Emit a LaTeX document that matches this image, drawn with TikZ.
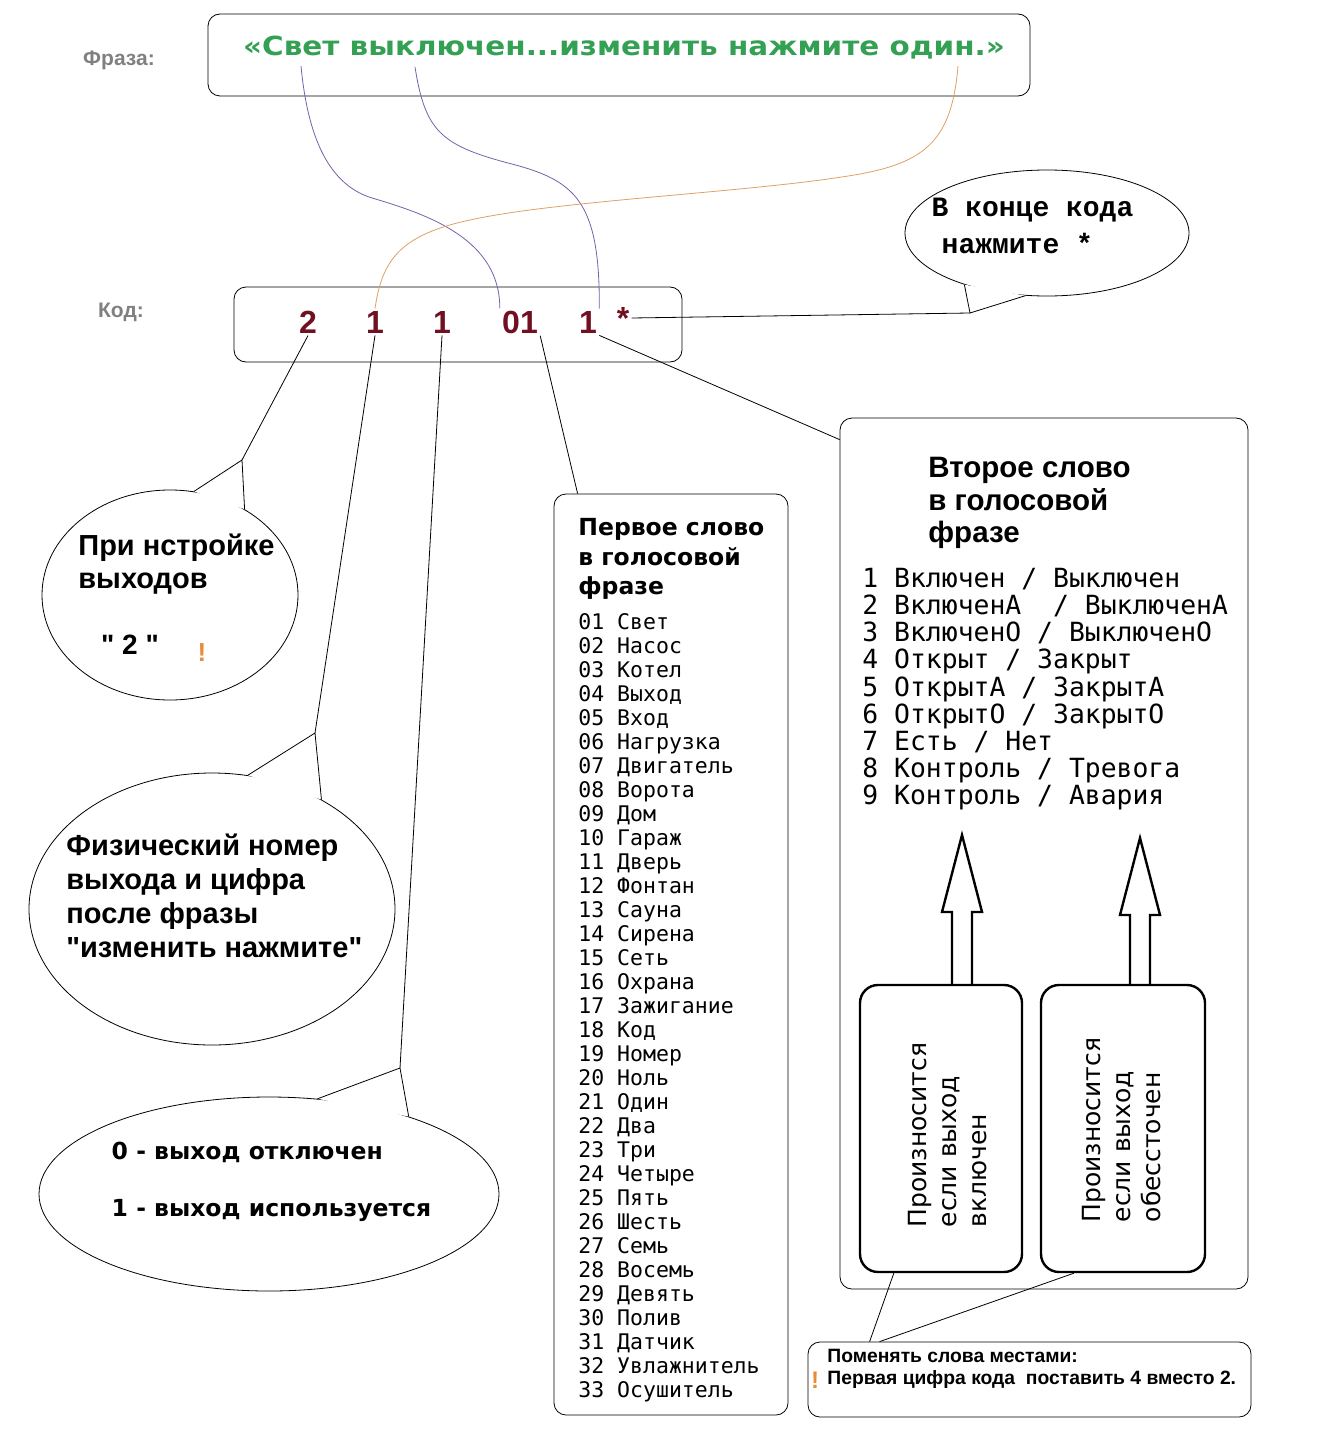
\documentclass[tikz,border=0pt]{standalone}
\usepackage{fontspec}
\setmainfont{Liberation Sans}
\newfontfamily\qfont{Liberation Sans}
\newfontfamily\listfont{DejaVu Sans Mono}
\newfontfamily\wideboldfont{DejaVu Sans}
\newfontfamily\phrasefont{DejaVu Sans}[FakeStretch=1.12]
\newfontfamily\typefont{Liberation Mono}
\usetikzlibrary{shapes.geometric}
\definecolor{PhraseGreen}{RGB}{52,160,84}
\definecolor{CodeRed}{RGB}{112,16,32}
\definecolor{LabelGray}{RGB}{128,128,128}
\definecolor{WirePurple}{RGB}{120,96,168}
\definecolor{WireOrange}{RGB}{222,160,100}
\definecolor{MarkOrange}{RGB}{232,140,60}

\begin{document}
\begin{tikzpicture}[x=1pt,y=-1pt,line width=0.8pt,
  frame/.style={draw,rounded corners=12pt,inner sep=0pt},
  bubble/.style={draw,ellipse,inner sep=0pt},
  digit/.style={font=\bfseries\fontsize{32}{32}\selectfont,text=CodeRed,inner sep=2pt},
  saybox/.style={draw,line width=2.4pt,rounded corners=18pt,minimum height=287pt},
  blockarr/.style={draw,line width=2.4pt,line join=miter},
  hint/.style={font=\bfseries\fontsize{21}{21}\selectfont,text=LabelGray}]
\useasboundingbox (0,0) rectangle (1320,1434);
% phrase and code
\node[frame,minimum width=822pt,minimum height=82pt] (phrasebox) at (619,55){};
\node[font=\phrasefont\bfseries\fontsize{26.3}{26.3}\selectfont,text=PhraseGreen] (phrase) at (624,48){«Свет выключен...изменить нажмите один.»};
\node[hint] (phraselbl) at (119,60){Фраза:};
\coordinate (wSvet) at (301,66);\coordinate (wVykl) at (415,67);\coordinate (wOdin) at (958,66);
\node[frame,minimum width=448pt,minimum height=75pt] (codebox) at (458,324.5){};
\node[hint] (codelbl) at (121,312){Код:};
\node[digit] (d2) at (308,322){2};
\node[digit] (d1a) at (375,322){1};
\node[digit] (d1b) at (442,322){1};
\node[digit] (d01) at (520,322){01};
\node[digit] (d1c) at (588,322){1};
\node[digit] (dstar) at (623,318){*};
% phrase words to code digits
\draw[WirePurple] (wSvet) .. controls (308,140) and (330,185) .. (372,198) .. controls (430,215) and (500,240) .. (d01.north west);
\draw[WirePurple] (wVykl) .. controls (425,130) and (440,145) .. (508,163) .. controls (575,180) and (600,200) .. (d1c.north east);
\draw[WireOrange] (wOdin) .. controls (952,140) and (925,162) .. (860,174) .. controls (760,192) and (560,200) .. (470,220) .. controls (400,235) and (382,260) .. (d1a.north);
% callouts
\node[bubble,minimum width=284pt,minimum height=126pt] (endbub) at (1047,233){};
\coordinate (tipE) at (970,313);
\fill[white] (endbub.212) -- (tipE) -- (endbub.251) -- cycle;
\draw (endbub.212) -- (tipE) -- (endbub.251);
\node[anchor=west,font=\typefont\bfseries\fontsize{28}{28}\selectfont] (endtxt1) at (928,210){В конце кода};
\node[anchor=west,font=\typefont\bfseries\fontsize{28}{28}\selectfont] (endtxt2) at (938,243){нажмите *};
\draw (dstar.east) -- (tipE);

\node[bubble,minimum width=256pt,minimum height=210pt] (b1) at (170,595){};
\coordinate (tip1) at (242,460);
\fill[white] (b1.77) -- (tip1) -- (b1.49) -- cycle;
\draw (b1.77) -- (tip1) -- (b1.49);
\node[anchor=north west,align=left,inner sep=0pt,font=\bfseries\fontsize{29}{33}\selectfont] (b1txt) at (78,534){При нстройке\\выходов};
\node[font=\qfont\bfseries\fontsize{28}{28}\selectfont] (b1two) at (130,645){" 2 "};
\node[font=\bfseries\fontsize{26}{26}\selectfont,text=MarkOrange] (b1mark) at (202,653){!};
\draw (d2.south) -- (tip1);

\node[bubble,minimum width=366pt,minimum height=272pt] (b2) at (212,909){};
\coordinate (tip2) at (315,733);
\fill[white] (b2.75) -- (tip2) -- (b2.45) -- cycle;
\draw (b2.75) -- (tip2) -- (b2.45);
\node[anchor=north west,align=left,inner sep=0pt,font=\qfont\bfseries\fontsize{29}{33.7}\selectfont] (b2txt) at (66,834){Физический номер\\выхода и цифра\\после фразы\\"изменить нажмите"};
\draw (d1a.south) -- (tip2);

\node[bubble,minimum width=460pt,minimum height=194pt] (b3) at (269,1194){};
\coordinate (tip3) at (400,1068);
\fill[white] (b3.63) -- (tip3) -- (b3.29) -- cycle;
\draw (b3.63) -- (tip3) -- (b3.29);
\node[anchor=west,font=\wideboldfont\bfseries\fontsize{23.5}{23.5}\selectfont] (b3l0) at (108,1152){0 - выход отключен};
\node[anchor=west,font=\wideboldfont\bfseries\fontsize{23.5}{23.5}\selectfont] (b3l1) at (108,1210){1 - выход используется};
\draw (d1b.south) -- (tip3);

% first word list
\node[frame,minimum width=234pt,minimum height=921pt] (lbox) at (671,954.5){};
\node[anchor=north west,align=left,inner sep=0pt,font=\wideboldfont\bfseries\fontsize{23.5}{29.5}\selectfont] (lhead) at (578,518){Первое слово\\в голосовой\\фразе};
\node[anchor=north west,align=left,inner sep=0pt,font=\listfont\fontsize{21.5}{24}\selectfont] (llist) at (578,613){01 Свет\\02 Насос\\03 Котел\\04 Выход\\05 Вход\\06 Нагрузка\\07 Двигатель\\08 Ворота\\09 Дом\\10 Гараж\\11 Дверь\\12 Фонтан\\13 Сауна\\14 Сирена\\15 Сеть\\16 Охрана\\17 Зажигание\\18 Код\\19 Номер\\20 Ноль\\21 Один\\22 Два\\23 Три\\24 Четыре\\25 Пять\\26 Шесть\\27 Семь\\28 Восемь\\29 Девять\\30 Полив\\31 Датчик\\32 Увлажнитель\\33 Осушитель};
\draw (d01.south east) -- ([xshift=24pt]lbox.north west);

% second word list
\node[frame,minimum width=408pt,minimum height=871pt] (wbox) at (1044,853.5){};
\node[anchor=north west,align=left,inner sep=0pt,font=\bfseries\fontsize{29.5}{32.5}\selectfont] (whead) at (928,457){Второе слово\\в голосовой\\фразе};
\node[anchor=north west,align=left,inner sep=0pt,font=\listfont\fontsize{26.4}{27.1}\selectfont] (wlist) at (862,568){1 Включен / Выключен\\2 ВключенА\ \ / ВыключенА\\3 ВключенО / ВыключенО\\4 Открыт / Закрыт\\5 ОткрытА / ЗакрытА\\6 ОткрытО / ЗакрытО\\7 Есть / Нет\\8 Контроль / Тревога\\9 Контроль / Авария};
\draw (d1c.south east) -- ([yshift=-22pt]wbox.north west);

\node[saybox,minimum width=162pt] (boxA) at (941,1128.5){};
\node[saybox,minimum width=164pt] (boxB) at (1123,1128.5){};
\node[rotate=90,align=left,font=\wideboldfont\fontsize{25}{30}\selectfont] (sayA) at (948,1135){Произносится\\если выход\\включен};
\node[rotate=90,align=left,font=\wideboldfont\fontsize{25}{30}\selectfont] (sayB) at (1122,1130){Произносится\\если выход\\обессточен};
\coordinate (tA) at (962,835);\coordinate (tB) at (1140,838);
\draw[blockarr,shift={(tA)}] (-10,150) -- (-10,77) -- (-20,77) -- (0,0) -- (20,77) -- (10,77) -- (10,150);
\draw[blockarr,shift={(tB)}] (-10,147) -- (-10,77) -- (-20,77) -- (0,0) -- (20,77) -- (10,77) -- (10,147);

% note
\node[frame,minimum width=443pt,minimum height=75pt] (note) at (1029.5,1379.5){};
\node[anchor=north west,align=left,inner sep=0pt,font=\bfseries\fontsize{19.3}{22}\selectfont] (notetxt) at (827,1349){Поменять слова местами:\\Первая цифра кода\ \ поставить 4 вместо 2.};
\node[font=\bfseries\fontsize{24}{24}\selectfont,text=MarkOrange] (notemark) at (815,1380){!};
\draw ([xshift=35pt]boxA.south west) -- ([xshift=62pt]note.north west);
\draw ([xshift=34pt]boxB.south west) -- ([xshift=72pt]note.north west);
\end{tikzpicture}
\end{document}
